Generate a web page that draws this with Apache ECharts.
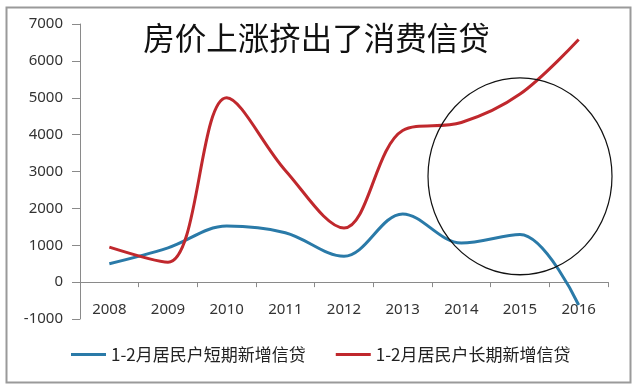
<!DOCTYPE html>
<html><head><meta charset="utf-8">
<script src="https://cdn.jsdelivr.net/npm/echarts@6/dist/echarts.min.js"></script>
<style>html,body{margin:0;padding:0;background:#fff}#c{width:633px;height:385px}</style>
</head><body><div id="c"></div>
<script>
var years = ['2008','2009','2010','2011','2012','2013','2014','2015','2016'];
var shortTerm = [500, 930, 1520, 1340, 700, 1850, 1060, 1290, -620];
var longTerm = [950, 540, 5000, 3030, 1470, 4110, 4330, 5100, 6580];
var seriesNames = ['1-2月居民户短期新增信贷', '1-2月居民户长期新增信贷'];
var titleText = '房价上涨挤出了消费信贷';
var circleCenter = ['2015', 2870];

var chart = echarts.init(document.getElementById('c'));
var font = '"Noto Sans", "Noto Sans CJK SC", sans-serif';
chart.setOption({
  animation: false,
  backgroundColor: '#fff',
  title: {
    text: titleText, left: 'center', top: 17,
    textStyle: { fontSize: 31.5, fontWeight: 'normal', color: '#111', fontFamily: '"Noto Sans CJK SC", sans-serif' }
  },
  grid: { left: 80, right: 25, top: 24, bottom: 66 },
  legend: {
    left: 66, top: 341, itemWidth: 35, itemHeight: 3, itemGap: 30, icon: 'rect',
    textStyle: { fontSize: 17, color: '#222', fontFamily: '"Noto Sans CJK SC", sans-serif' },
    data: seriesNames
  },
  xAxis: {
    type: 'category', data: years, boundaryGap: true,
    axisLine: { onZero: true, lineStyle: { color: '#8a8a8a', width: 1 } },
    axisTick: { show: true, length: 5, lineStyle: { color: '#8a8a8a' } },
    axisLabel: { margin: -17, fontSize: 15, color: '#333', fontFamily: font },
    splitLine: { show: false }
  },
  yAxis: {
    type: 'value', min: -1000, max: 7000, interval: 1000,
    axisLine: { show: true, lineStyle: { color: '#8a8a8a', width: 1 } },
    axisTick: { show: true, length: 8, lineStyle: { color: '#8a8a8a' } },
    axisLabel: { margin: 17, fontSize: 15, color: '#333', fontFamily: font,
      formatter: function (v) { return String(v); } },
    splitLine: { show: false }
  },
  series: [
    { name: seriesNames[0], type: 'line', data: shortTerm, smooth: 0.35, symbol: 'none',
      itemStyle: { color: '#2a7aa8' }, lineStyle: { color: '#2a7aa8', width: 3 } },
    { name: seriesNames[1], type: 'line', data: longTerm, smooth: 0.35, symbol: 'none',
      itemStyle: { color: '#c0282d' }, lineStyle: { color: '#c0282d', width: 3 } }
  ]
});
var cp = chart.convertToPixel({ gridIndex: 0 }, circleCenter);
chart.setOption({
  graphic: [
    { type: 'rect', left: 4, top: 5, shape: { x: 0, y: 0, width: 624, height: 375 },
      style: { fill: 'none', stroke: '#9a9a9a', lineWidth: 2 }, silent: true },
    { type: 'circle', x: cp[0], y: cp[1], scaleY: 1.07, shape: { cx: 0, cy: 0, r: 92 },
      style: { fill: 'none', stroke: '#111', lineWidth: 1.2, strokeNoScale: true }, silent: true, z: 100 }
  ]
});
</script></body></html>
